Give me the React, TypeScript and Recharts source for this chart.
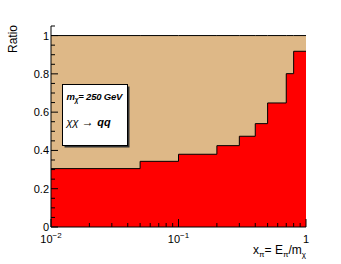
import React from "react";
import { ComposedChart, Area, XAxis, YAxis } from "recharts";

// bin low edges (last entry = upper edge of the last bin)
const binEdges = [0.01, 0.05, 0.1, 0.2, 0.3, 0.4, 0.5, 0.7, 0.8, 1];
const ratio = [0.305, 0.343, 0.38, 0.425, 0.474, 0.54, 0.648, 0.801, 0.918];
const total = [1, 1, 1, 1, 1, 1, 1, 1, 1];

const xMajor = [0.01, 0.1, 1];
const xMinor = [0.02, 0.03, 0.04, 0.05, 0.06, 0.07, 0.08, 0.09, 0.2, 0.3, 0.4, 0.5, 0.6, 0.7, 0.8, 0.9];
const xLabels = ["10|-2", "10|-1", "1"];
const yMajor = [0, 0.2, 0.4, 0.6, 0.8, 1];
const yMinor = [0.05, 0.1, 0.15, 0.25, 0.3, 0.35, 0.45, 0.5, 0.55, 0.65, 0.7, 0.75, 0.85, 0.9, 0.95, 1.05];
const yLabels = ["0", "0.2", "0.4", "0.6", "0.8", "1"];

const data = binEdges.map((x, i) => ({
  x,
  ratio: ratio[Math.min(i, ratio.length - 1)],
  total: total[Math.min(i, total.length - 1)],
}));

const FONT = "'Liberation Sans', Arial, Helvetica, sans-serif";
const TAN = "#deb887";

const idx = (arr: number[], v: number) => arr.findIndex((m) => Math.abs(m - v) < 1e-9);

function YTick(props: any) {
  const { x, y, payload, side } = props;
  const i = idx(yMajor, payload.value);
  const len = i >= 0 ? 7 : 4;
  const dir = side === "left" ? 1 : -1;
  return (
    <g>
      <line x1={x} y1={y} x2={x + dir * len} y2={y} stroke="#000" />
      {side === "left" && i >= 0 && (
        <text x={x - 2} y={y + 4} textAnchor="end" fontSize={11} fontFamily={FONT} fill="#000">
          {yLabels[i]}
        </text>
      )}
    </g>
  );
}

function XTick(props: any) {
  const { x, y, payload, side } = props;
  const i = idx(xMajor, payload.value);
  const len = i >= 0 ? 8 : 4;
  const dir = side === "bottom" ? -1 : 1;
  let label: React.ReactNode = null;
  if (side === "bottom" && i >= 0) {
    const [base, exp] = xLabels[i].split("|");
    label = (
      <text x={x} y={y + 16} textAnchor="middle" fontSize={11} fontFamily={FONT} fill="#000">
        {base}
        {exp && (
          <tspan dy={-5} fontSize={8}>
            {exp.replace("-", "\u2212")}
          </tspan>
        )}
      </text>
    );
  }
  return (
    <g>
      <line x1={x} y1={y} x2={x} y2={y + dir * len} stroke="#000" />
      {label}
    </g>
  );
}

export default function App() {
  const xTicks = [...xMajor, ...xMinor].sort((a, b) => a - b);
  const yTicks = [...yMajor, ...yMinor].sort((a, b) => a - b);
  return (
    <div style={{ position: "absolute", left: 0, top: 0, width: 341, height: 264, background: "#fff" }}>
      <ComposedChart width={341} height={264} data={data} margin={{ top: 26, right: 35, bottom: 0, left: 0 }}>
        <Area
          type="stepAfter"
          dataKey="total"
          fill={TAN}
          fillOpacity={1}
          stroke="#000"
          strokeWidth={1}
          isAnimationActive={false}
        />
        <Area
          type="stepAfter"
          dataKey="ratio"
          fill="#ff0000"
          fillOpacity={1}
          stroke="#000"
          strokeWidth={1}
          isAnimationActive={false}
        />
        <XAxis
          dataKey="x"
          type="number"
          scale="log"
          domain={[0.01, 1]}
          allowDataOverflow
          ticks={xTicks}
          interval={0}
          height={37}
          tickSize={0}
          tickMargin={0}
          axisLine={{ stroke: "#000" }}
          tick={<XTick side="bottom" />}
        />
        <XAxis
          xAxisId="top"
          orientation="top"
          dataKey="x"
          type="number"
          scale="log"
          domain={[0.01, 1]}
          allowDataOverflow
          ticks={xTicks}
          interval={0}
          height={0}
          tickSize={0}
          tickMargin={0}
          axisLine={{ stroke: "#000" }}
          tick={<XTick side="top" />}
        />
        <YAxis
          type="number"
          domain={[0, 1.05]}
          ticks={yTicks}
          interval={0}
          width={51}
          tickSize={0}
          tickMargin={0}
          axisLine={{ stroke: "#000" }}
          tick={<YTick side="left" />}
        />
        <YAxis
          yAxisId="right"
          orientation="right"
          type="number"
          domain={[0, 1.05]}
          ticks={yTicks}
          interval={0}
          width={0}
          tickSize={0}
          tickMargin={0}
          axisLine={{ stroke: "#000" }}
          tick={<YTick side="right" />}
        />
      </ComposedChart>
      <svg
        width={341}
        height={264}
        style={{ position: "absolute", left: 0, top: 0, pointerEvents: "none" }}
        fontFamily={FONT}
      >
        <text transform="translate(16.5,25) rotate(-90)" textAnchor="end" fontSize={12} fill="#000">
          Ratio
        </text>
        <text x={306} y={254} textAnchor="end" fontSize={12} fill="#000">
          x<tspan fontSize={8} dy={3}>π</tspan>
          <tspan dy={-3}>= E</tspan>
          <tspan fontSize={8} dy={3}>π</tspan>
          <tspan dy={-3}>/m</tspan>
          <tspan fontSize={8} dy={3}>χ</tspan>
        </text>
        <rect x={64.5} y={86.5} width={65} height={61} fill="#333" />
        <rect x={62.5} y={84.5} width={65} height={61} fill="#fff" stroke="#000" />
        <text x={66.5} y={99.5} fontSize={9.5} fontWeight="bold" fontStyle="italic" fill="#000" letterSpacing={-0.2}>
          m<tspan fontSize={6.5} dy={2.5}>χ</tspan>
          <tspan dy={-2.5}>= 250 GeV</tspan>
        </text>
        <text x={66.5} y={126} fontSize={11} fill="#000">
          <tspan fontStyle="italic">χχ</tspan>
          <tspan fontSize={12}> → </tspan>
          <tspan fontWeight="bold" fontStyle="italic">qq</tspan>
        </text>
      </svg>
    </div>
  );
}
